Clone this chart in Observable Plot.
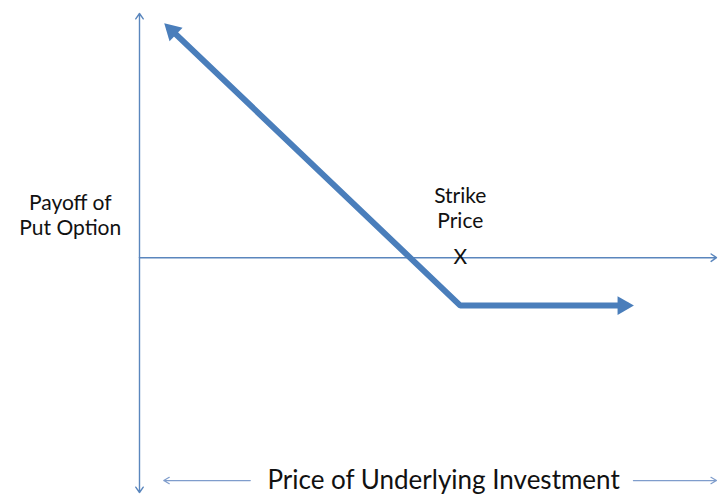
<!DOCTYPE html>
<html>
<head>
<meta charset="utf-8">
<script src="https://cdn.jsdelivr.net/npm/d3@7"></script>
<script src="https://cdn.jsdelivr.net/npm/@observablehq/plot@0.6"></script>
<style>
  html, body { margin: 0; padding: 0; background: #ffffff; }
  #chart { width: 719px; height: 495px; }
</style>
</head>
<body>
<div id="chart"></div>
<script>
// ---- data (schematic units) ----
const payoffPrice = [5, 55.6, 84.7];        // price of underlying
const payoffValue = [98.2, -20.4, -20.4];    // payoff of put option
const strikePrice = 55.6;
const priceDomain = [0, 100];
const payoffDomain = [-100, 104];
const priceArrowFrom = [19.2, 85.6];
const priceArrowTo = [4.2, 100];
const priceArrowLevel = -94.9;
const yAxisLabel = "Payoff of\nPut Option";
const yAxisLabelPos = [-12.0, 18.6];
const strikeLabel = "Strike\nPrice";
const strikeLabelLevel = 21.2;
const strikeMark = "X";
const xAxisLabel = "Price of Underlying Investment";
const xAxisLabelPos = [52.7, -94.9];

// ---- styling ----
const lineColor = "#4a7ebb";
const axisColor = "#5a86bd";
const lightColor = "#7f9dcc";
const textColor = "#111111";
const font = "Lato, 'Open Sans', sans-serif";

const xRange = [139, 716];
const yRange = [492, 13];

const payoff = payoffPrice.map((p, i) => ({price: p, value: payoffValue[i]}));
const axes = [
  {x1: 0, y1: 0, x2: 0, y2: payoffDomain[1]},
  {x1: 0, y1: 0, x2: 0, y2: payoffDomain[0]},
  {x1: 0, y1: 0, x2: priceDomain[1], y2: 0}
];
const priceArrows = priceArrowFrom.map((f, i) => ({x1: f, x2: priceArrowTo[i], y: priceArrowLevel}));

// arrowhead geometry (pixel space)
const sx = d3.scaleLinear(priceDomain, xRange);
const sy = d3.scaleLinear(payoffDomain, yRange);
const headR = 7;
const strokeW = 6;
const tri = Math.sqrt(Math.PI * headR * headR / (3 * Math.sqrt(3)));
const shift = 2 * tri - (strokeW / 2) / Math.tan(Math.PI / 6);
function head(a, b) {
  const dx = sx(b.price) - sx(a.price), dy = sy(b.value) - sy(a.value);
  const len = Math.hypot(dx, dy), ux = dx / len, uy = dy / len;
  const rot = Math.atan2(ux, -uy) * 180 / Math.PI;
  return Plot.dot([b], {
    x: "price", y: "value", symbol: "triangle", r: headR,
    fill: lineColor, stroke: "none", rotate: rot,
    dx: -(2 * tri - shift) * ux + 0, dy: -(2 * tri - shift) * uy + 0
  });
}
// center = endpoint - (2*tri - shift)... tip = center + 2*tri*u = endpoint + shift*u

const chart = Plot.plot({
  width: 719,
  height: 495,
  margin: 0,
  style: {background: "#ffffff", fontFamily: font, overflow: "visible"},
  x: {domain: priceDomain, range: xRange, axis: null},
  y: {domain: payoffDomain, range: yRange, axis: null},
  marks: [
    Plot.arrow(axes, {x1: "x1", y1: "y1", x2: "x2", y2: "y2", stroke: axisColor, strokeWidth: 1.4, headLength: 7, headAngle: 70, bend: 0}),
    Plot.arrow(priceArrows, {x1: "x1", y1: "y", x2: "x2", y2: "y", stroke: lightColor, strokeWidth: 1.2, headLength: 8, headAngle: 60, bend: 0}),
    Plot.line(payoff, {x: "price", y: "value", stroke: lineColor, strokeWidth: strokeW, strokeLinecap: "butt", strokeLinejoin: "miter"}),
    head(payoff[1], payoff[0]),
    head(payoff[1], payoff[2]),
    Plot.text([yAxisLabel], {x: yAxisLabelPos[0], y: yAxisLabelPos[1], text: d => d, fontSize: 21, lineHeight: 1.19, fill: textColor, textAnchor: "middle", lineAnchor: "middle"}),
    Plot.text([strikeLabel], {x: strikePrice, y: strikeLabelLevel, text: d => d, fontSize: 21, lineHeight: 1.19, fill: textColor, textAnchor: "middle", lineAnchor: "middle"}),
    Plot.text([strikeMark], {x: strikePrice, y: 0, text: d => d, fontSize: 21, fill: textColor, textAnchor: "middle", lineAnchor: "middle"}),
    Plot.text([xAxisLabel], {x: xAxisLabelPos[0], y: xAxisLabelPos[1], text: d => d, fontSize: 26, fill: textColor, textAnchor: "middle", lineAnchor: "middle"})
  ]
});
document.getElementById("chart").appendChild(chart);
</script>
</body>
</html>
